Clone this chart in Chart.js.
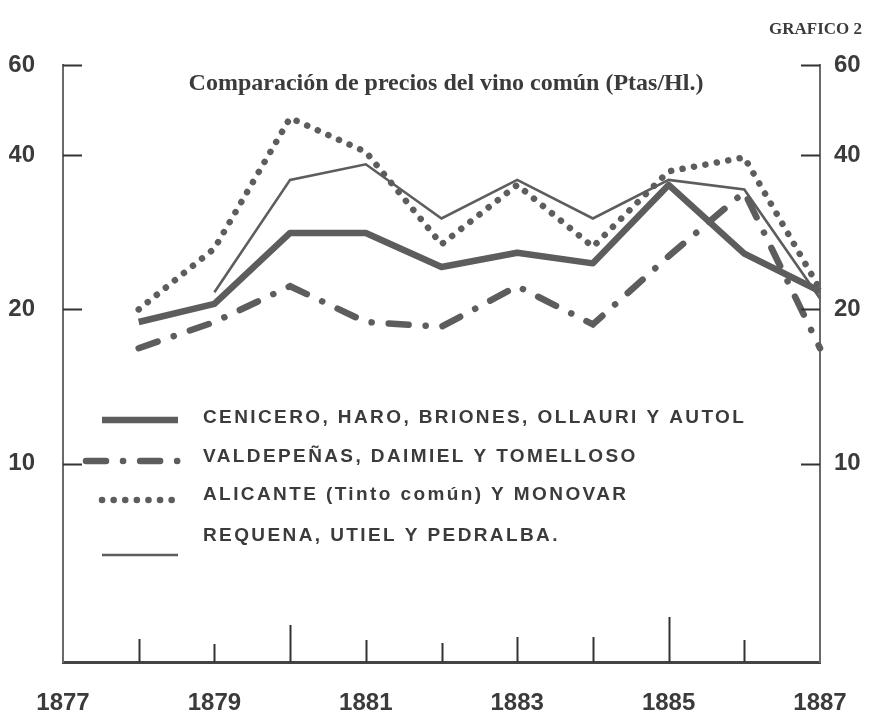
<!DOCTYPE html>
<html>
<head>
<meta charset="utf-8">
<script src="https://cdn.jsdelivr.net/npm/chart.js@4"></script>
<style>
  html, body { margin: 0; padding: 0; background: #fff; }
  #wrap { width: 869px; height: 718px; }
</style>
</head>
<body>
<div id="wrap"><canvas id="vinoChart" width="869" height="718"></canvas></div>
<script>
// Precios del vino común, Ptas/Hl.
const years = [1878, 1879, 1880, 1881, 1882, 1883, 1884, 1885, 1886, 1887];
const cenicero   = [18.9, 20.5, 28.2, 28.2, 24.2, 25.8, 24.6, 35.0, 25.7, 21.7];
const valdepenas = [16.8, 18.9, 22.2, 18.9, 18.5, 22.2, 18.7, 25.4, 33.9, 16.8];
const alicante   = [20.0, 26.3, 47.3, 40.6, 26.8, 35.0, 26.5, 37.2, 39.6, 21.9];
const requena    = [null, 21.6, 35.8, 38.4, 30.1, 35.8, 30.1, 35.8, 34.3, 21.0];

const seriesNames = [
    'CENICERO, HARO, BRIONES, OLLAURI Y AUTOL',
    'VALDEPEÑAS, DAIMIEL Y TOMELLOSO',
    'ALICANTE (Tinto común) Y MONOVAR',
    'REQUENA, UTIEL Y PEDRALBA.'
];
const yTicks = [10, 20, 40, 60];
const xLabelYears = [1877, 1879, 1881, 1883, 1885, 1887];
const xTickYears = [1878, 1879, 1880, 1881, 1882, 1883, 1884, 1885, 1886];
const xTickLen = [23, 18, 37, 22, 19, 25, 25, 45, 22]; // printed ticks have uneven heights

const INK = '#5d5d5d';
const TEXT = '#3b3b3b';
const AXIS_FONT = { family: "'Liberation Sans', Arial, sans-serif", size: 24, weight: 'bold', lineHeight: 1 };

function toPoints(values) {
    return years.map((y, i) => ({ x: y, y: values[i] }));
}

// inward ticks, titles and the legend block inside the plot
const decorPlugin = {
    id: 'decor',
    afterDraw(chart) {
        const ctx = chart.ctx;
        const area = chart.chartArea;
        const xs = chart.scales.x;
        const ys = chart.scales.y;
        ctx.save();

        // y ticks pointing inward on both sides
        ctx.strokeStyle = '#333';
        ctx.lineWidth = 2;
        yTicks.forEach(v => {
            const py = Math.round(ys.getPixelForValue(v)) + 0.5;
            ctx.beginPath();
            ctx.moveTo(area.left, py);
            ctx.lineTo(area.left + 19, py);
            ctx.moveTo(area.right - 19, py);
            ctx.lineTo(area.right, py);
            ctx.stroke();
        });

        // x ticks pointing up from the base line
        xTickYears.forEach((yr, i) => {
            const px = Math.round(xs.getPixelForValue(yr)) + 0.5;
            ctx.beginPath();
            ctx.moveTo(px, area.bottom);
            ctx.lineTo(px, area.bottom - xTickLen[i]);
            ctx.stroke();
        });

        // titles
        ctx.fillStyle = TEXT;
        ctx.textBaseline = 'middle';
        ctx.font = "bold 17px 'Liberation Serif', serif";
        ctx.textAlign = 'right';
        ctx.fillText('GRAFICO 2', 862, 30);
        ctx.textAlign = 'center';
        ctx.font = "bold 24px 'Liberation Serif', serif";
        ctx.fillText('Comparación de precios del vino común (Ptas/Hl.)', 446, 84, 518);

        // legend
        const rows = [
            { textY: 418, lineY: 420 },
            { textY: 457, lineY: 461 },
            { textY: 495, lineY: 500 },
            { textY: 536, lineY: 555 }
        ];
        chart.data.datasets.forEach((ds, i) => {
            const r = rows[i];
            ctx.save();
            ctx.strokeStyle = ds.borderColor;
            ctx.lineWidth = ds.borderWidth;
            ctx.lineCap = ds.borderCapStyle || 'butt';
            ctx.setLineDash(ds.borderDash || []);
            ctx.beginPath();
            ctx.moveTo(i === 1 ? 86 : 102, r.lineY);
            ctx.lineTo(178, r.lineY);
            ctx.stroke();
            ctx.restore();

            ctx.fillStyle = TEXT;
            ctx.textAlign = 'left';
            ctx.textBaseline = 'middle';
            ctx.font = "bold 19px 'Liberation Sans', Arial, sans-serif";
            if ('letterSpacing' in ctx) ctx.letterSpacing = '2.4px';
            ctx.fillText(ds.label, 203, r.textY);
            if ('letterSpacing' in ctx) ctx.letterSpacing = '0px';
        });

        ctx.restore();
    }
};

function initChart() {
    const canvas = document.getElementById('vinoChart');
    if (!canvas) {
        console.error('Chart canvas element not found');
        return;
    }

    const yScale = (pos, pad, w) => ({
        type: 'logarithmic',
        position: pos,
        min: 4.1,
        max: 60,
        afterBuildTicks: (scale) => { scale.ticks = yTicks.map(v => ({ value: v })); },
        afterFit: (scale) => { scale.width = w; },
        grid: { display: false, drawTicks: false },
        border: { display: true, color: '#6a6a6a', width: 2 },
        ticks: {
            color: TEXT,
            padding: pad,
            font: AXIS_FONT,
            callback: (v) => String(v)
        }
    });

    new Chart(canvas, {
        type: 'line',
        data: {
            datasets: [
                {
                    label: seriesNames[0],
                    data: toPoints(cenicero),
                    borderColor: INK,
                    borderWidth: 6.5,
                    borderJoinStyle: 'round'
                },
                {
                    label: seriesNames[1],
                    data: toPoints(valdepenas),
                    borderColor: INK,
                    borderWidth: 6.5,
                    borderCapStyle: 'round',
                    borderDash: [20, 17, 0.1, 17]
                },
                {
                    label: seriesNames[2],
                    data: toPoints(alicante),
                    borderColor: INK,
                    borderWidth: 6.5,
                    borderCapStyle: 'round',
                    borderDash: [0.1, 11.5]
                },
                {
                    label: seriesNames[3],
                    data: toPoints(requena),
                    borderColor: INK,
                    borderWidth: 2.6
                }
            ]
        },
        options: {
            responsive: false,
            animation: false,
            clip: false,
            spanGaps: false,
            elements: {
                line: { tension: 0, fill: false },
                point: { radius: 0, hoverRadius: 0 }
            },
            layout: { padding: { left: 9, right: 6, top: 65, bottom: 0 } },
            plugins: {
                legend: { display: false },
                title: { display: false },
                tooltip: { enabled: false }
            },
            scales: {
                x: {
                    type: 'linear',
                    min: 1877,
                    max: 1887,
                    afterBuildTicks: (scale) => { scale.ticks = xLabelYears.map(v => ({ value: v })); },
                    afterFit: (scale) => {
                        scale.height = 56;
                        scale.paddingLeft = 0;
                        scale.paddingRight = 0;
                    },
                    grid: { display: false, drawTicks: false },
                    border: { display: true, color: '#444', width: 3 },
                    ticks: {
                        color: TEXT,
                        padding: 29,
                        maxRotation: 0,
                        font: AXIS_FONT,
                        callback: (v) => String(v)
                    }
                },
                y: yScale('left', 28, 54),
                y2: yScale('right', 14, 43)
            }
        },
        plugins: [decorPlugin]
    });
}

document.addEventListener('DOMContentLoaded', initChart);
</script>
</body>
</html>
